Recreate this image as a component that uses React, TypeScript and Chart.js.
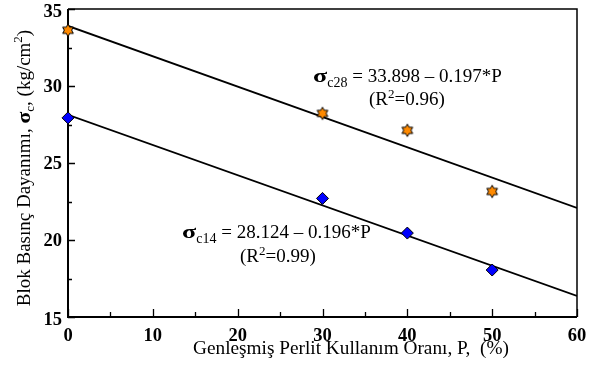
import React, { useEffect, useRef } from "react";
import { Chart, registerables } from "chart.js";
Chart.register(...registerables);

const xTicks = [0, 10, 20, 30, 40, 50, 60];
const xMinorTicks = [5, 15, 25, 35, 45, 55];
const yTicks = [15, 20, 25, 30, 35];
const yMinorTicks = [17.5, 22.5, 27.5, 32.5];
const perliteP = [0, 30, 40, 50];
const sigma28 = [33.62, 28.22, 27.12, 23.15];
const sigma14 = [27.93, 22.7, 20.45, 18.05];
const fitP = [0, 60];
const fit28 = [33.898, 22.078];
const fit14 = [28.124, 16.364];

const FONT = "'Liberation Serif', 'Times New Roman', serif";

type Run = { text: string; font: string; dy: number; sx?: number };

function runsWidth(ctx: CanvasRenderingContext2D, runs: Run[]) {
  let w = 0;
  for (const r of runs) {
    ctx.font = r.font;
    w += ctx.measureText(r.text).width * (r.sx || 1);
  }
  return w;
}

function drawRuns(ctx: CanvasRenderingContext2D, x: number, y: number, runs: Run[]) {
  let cx = x;
  ctx.textAlign = "left";
  ctx.textBaseline = "alphabetic";
  for (const r of runs) {
    ctx.font = r.font;
    const sx = r.sx || 1;
    ctx.save();
    ctx.translate(cx, y + r.dy);
    ctx.scale(sx, 1);
    ctx.fillText(r.text, 0, 0);
    ctx.restore();
    cx += ctx.measureText(r.text).width * sx;
  }
}

function makeStar(): HTMLCanvasElement {
  const c = document.createElement("canvas");
  c.width = 16;
  c.height = 16;
  const ctx = c.getContext("2d")!;
  const R = 6.2;
  const r = R / Math.sqrt(3);
  ctx.beginPath();
  for (let i = 0; i < 12; i++) {
    const a = -Math.PI / 2 + (i * Math.PI) / 6;
    const rad = i % 2 === 0 ? R : r;
    const px = 8 + Math.cos(a) * rad;
    const py = 8 + Math.sin(a) * rad;
    if (i === 0) ctx.moveTo(px, py);
    else ctx.lineTo(px, py);
  }
  ctx.closePath();
  ctx.fillStyle = "#FF8A00";
  ctx.fill();
  ctx.strokeStyle = "#000";
  ctx.lineWidth = 1;
  ctx.stroke();
  return c;
}

const framePlugin = {
  id: "frame",
  beforeDatasetsDraw(chart: any) {
    const ctx: CanvasRenderingContext2D = chart.ctx;
    const { left, right, top, bottom } = chart.chartArea;
    const xs = chart.scales.x;
    const ys = chart.scales.y;
    ctx.save();
    ctx.strokeStyle = "#000";
    ctx.lineWidth = 1.5;
    ctx.beginPath();
    ctx.moveTo(left, top);
    ctx.lineTo(right, top);
    ctx.lineTo(right, bottom);
    ctx.stroke();
    ctx.lineWidth = 2;
    ctx.beginPath();
    ctx.moveTo(left, top);
    ctx.lineTo(left, bottom);
    ctx.lineTo(right, bottom);
    ctx.stroke();
    ctx.lineWidth = 1.3;
    ctx.beginPath();
    for (const v of xTicks) {
      const px = Math.round(xs.getPixelForValue(v)) + 0.5;
      ctx.moveTo(px, bottom);
      ctx.lineTo(px, bottom - 8);
    }
    for (const v of xMinorTicks) {
      const px = Math.round(xs.getPixelForValue(v)) + 0.5;
      ctx.moveTo(px, bottom);
      ctx.lineTo(px, bottom - 5);
    }
    for (const v of yTicks) {
      const py = Math.round(ys.getPixelForValue(v)) + 0.5;
      ctx.moveTo(left, py);
      ctx.lineTo(left + 7, py);
    }
    for (const v of yMinorTicks) {
      const py = Math.round(ys.getPixelForValue(v)) + 0.5;
      ctx.moveTo(left, py);
      ctx.lineTo(left + 4, py);
    }
    ctx.stroke();
    ctx.restore();
  },
  afterDraw(chart: any) {
    const ctx: CanvasRenderingContext2D = chart.ctx;
    const { left, bottom } = chart.chartArea;
    const xs = chart.scales.x;
    const ys = chart.scales.y;
    ctx.save();
    ctx.fillStyle = "#000";
    ctx.font = `bold 18.5px ${FONT}`;
    ctx.textAlign = "center";
    ctx.textBaseline = "alphabetic";
    for (const v of xTicks) {
      ctx.fillText(String(v), xs.getPixelForValue(v), bottom + 24);
    }
    ctx.textAlign = "right";
    ctx.textBaseline = "middle";
    for (const v of yTicks) {
      let py = ys.getPixelForValue(v) + 1;
      if (v === 35) py += 2;
      if (v === 15) py += 2;
      ctx.fillText(String(v), left - 6, py);
    }
    ctx.font = `19.3px ${FONT}`;
    ctx.textAlign = "center";
    ctx.textBaseline = "alphabetic";
    ctx.fillText("Genleşmiş Perlit Kullanım Oranı, P,  (%)", 351, 354);

    const yRuns: Run[] = [
      { text: "Blok Basınç Dayanımı, ", font: `19px ${FONT}`, dy: 0 },
      { text: "σ", font: `bold 19px ${FONT}`, dy: 0, sx: 1.15 },
      { text: "c", font: `13px ${FONT}`, dy: 4 },
      { text: ", (kg/cm", font: `19px ${FONT}`, dy: 0 },
      { text: "2", font: `13px ${FONT}`, dy: -8 },
      { text: ")", font: `19px ${FONT}`, dy: 0 },
    ];
    ctx.save();
    ctx.translate(30, 168);
    ctx.rotate(-Math.PI / 2);
    const yw = runsWidth(ctx, yRuns);
    drawRuns(ctx, -yw / 2, 0, yRuns);
    ctx.restore();

    const eq28: Run[] = [
      { text: "σ", font: `bold 18px ${FONT}`, dy: 0, sx: 1.45 },
      { text: "c28", font: `14px ${FONT}`, dy: 5 },
      { text: " = 33.898 – 0.197*P", font: `19px ${FONT}`, dy: 0 },
    ];
    drawRuns(ctx, 313, 82, eq28);
    const r28: Run[] = [
      { text: "(R", font: `19px ${FONT}`, dy: 0 },
      { text: "2", font: `13px ${FONT}`, dy: -7 },
      { text: "=0.96)", font: `19px ${FONT}`, dy: 0 },
    ];
    drawRuns(ctx, 369, 105, r28);
    const eq14: Run[] = [
      { text: "σ", font: `bold 18px ${FONT}`, dy: 0, sx: 1.45 },
      { text: "c14", font: `14px ${FONT}`, dy: 5 },
      { text: " = 28.124 – 0.196*P", font: `19px ${FONT}`, dy: 0 },
    ];
    drawRuns(ctx, 182, 238, eq14);
    const r14: Run[] = [
      { text: "(R", font: `19px ${FONT}`, dy: 0 },
      { text: "2", font: `13px ${FONT}`, dy: -7 },
      { text: "=0.99)", font: `19px ${FONT}`, dy: 0 },
    ];
    drawRuns(ctx, 240, 262, r14);
    ctx.restore();
  },
};

export default function App() {
  const ref = useRef<HTMLCanvasElement>(null);
  useEffect(() => {
    document.body.style.margin = "0";
    const star = makeStar();
    const chart = new Chart(ref.current!, {
      type: "scatter",
      data: {
        datasets: [
          {
            type: "line",
            data: fitP.map((x, i) => ({ x, y: fit28[i] })),
            borderColor: "#000",
            borderWidth: 1.8,
            pointRadius: 0,
            order: 2,
          } as any,
          {
            type: "line",
            data: fitP.map((x, i) => ({ x, y: fit14[i] })),
            borderColor: "#000",
            borderWidth: 1.8,
            pointRadius: 0,
            order: 2,
          } as any,
          {
            data: perliteP.map((x, i) => ({ x, y: sigma28[i] })),
            pointStyle: star,
            pointRadius: 6,
            order: 0,
            clip: false,
          } as any,
          {
            data: perliteP.map((x, i) => ({ x, y: sigma14[i] })),
            pointStyle: "rectRot",
            pointRadius: 6,
            backgroundColor: "#0000FF",
            borderColor: "#000",
            borderWidth: 1,
            order: 0,
            clip: false,
          } as any,
        ],
      },
      options: {
        responsive: false,
        animation: false,
        events: [],
        layout: { padding: { left: 68, right: 18, top: 9, bottom: 56 } },
        plugins: { legend: { display: false }, tooltip: { enabled: false } },
        scales: {
          x: { type: "linear", min: 0, max: 60, display: false },
          y: { type: "linear", min: 15, max: 35, display: false },
        },
      },
      plugins: [framePlugin],
    });
    return () => chart.destroy();
  }, []);
  return (
    <div style={{ position: "absolute", left: 0, top: 0, width: 595, height: 373, background: "#fff" }}>
      <canvas ref={ref} width={595} height={373} />
    </div>
  );
}
